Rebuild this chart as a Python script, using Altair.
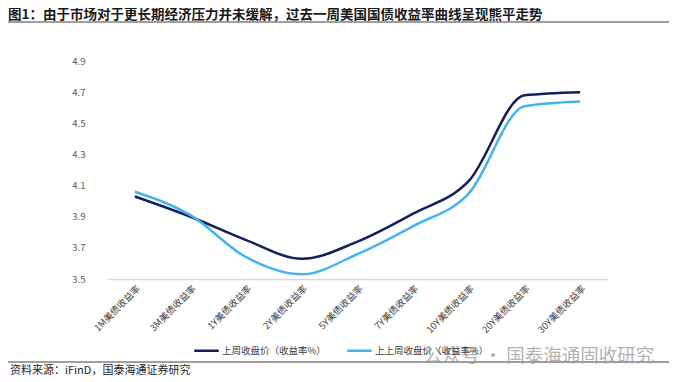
import altair as alt
import pandas as pd

categories = ["1M美债收益率", "3M美债收益率", "1Y美债收益率", "2Y美债收益率", "5Y美债收益率",
              "7Y美债收益率", "10Y美债收益率", "20Y美债收益率", "30Y美债收益率"]
last_week = [4.03, 3.90, 3.75, 3.63, 3.74, 3.92, 4.13, 4.68, 4.70]
prev_week = [4.06, 3.91, 3.64, 3.53, 3.66, 3.84, 4.05, 4.61, 4.64]
series_names = ["上周收盘价（收益率%）", "上上周收盘价（收益率%）"]
colors = ["#15205a", "#47b3ee"]
y_ticks = [3.5, 3.7, 3.9, 4.1, 4.3, 4.5, 4.7, 4.9]

title_text = "图1：由于市场对于更长期经济压力并未缓解，过去一周美国国债收益率曲线呈现熊平走势"
source_text = "资料来源：iFinD，国泰海通证券研究"
watermark_text = "公众号 · 国泰海通固收研究"

rows = []
for c, a, b in zip(categories, last_week, prev_week):
    rows.append({"cat": c, "series": series_names[0], "v": a})
    rows.append({"cat": c, "series": series_names[1], "v": b})
df = pd.DataFrame(rows)

FONT = "Noto Sans CJK SC"
W, H = 501, 218

lines = alt.Chart(df).mark_line(strokeWidth=2.5, interpolate="monotone").encode(
    x=alt.X("cat:N", sort=categories, title=None,
            scale=alt.Scale(paddingInner=0, paddingOuter=0.5),
            axis=alt.Axis(labelAngle=-45, labelFontSize=9.5, labelColor="#404040",
                          labelFont=FONT, ticks=False, domainColor="#d9d9d9",
                          domainWidth=1.5, labelPadding=4, grid=False)),
    y=alt.Y("v:Q", title=None,
            scale=alt.Scale(domain=[3.5, 4.9], nice=False, zero=False),
            axis=alt.Axis(values=y_ticks, format=".1f", domain=False, ticks=False,
                          grid=False, labelColor="#595959", labelFontSize=9.5,
                          labelFont=FONT, labelPadding=22)),
    color=alt.Color("series:N", sort=series_names,
                    scale=alt.Scale(domain=series_names, range=colors),
                    legend=alt.Legend(title=None, orient="none", direction="horizontal",
                                      legendX=86, legendY=276, symbolType="stroke",
                                      symbolStrokeWidth=2.5, symbolSize=600,
                                      labelFont=FONT, labelFontSize=9.5,
                                      labelColor="#404040", columnPadding=16,
                                      labelOffset=2)),
)

ann = pd.DataFrame({"k": [0]})
title = alt.Chart(ann).mark_text(align="left", baseline="alphabetic", fontSize=13.5,
                                 fontWeight="bold", font=FONT, color="#1a1a1a").encode(
    x=alt.value(-99), y=alt.value(-42), text=alt.value(title_text))
title_rule = alt.Chart(ann).mark_rule(color="#7f7f7f", strokeWidth=1.5).encode(
    x=alt.value(-99), x2=alt.value(563), y=alt.value(-39))
bottom_rule = alt.Chart(ann).mark_rule(color="#7f7f7f", strokeWidth=1.5).encode(
    x=alt.value(-99), x2=alt.value(563), y=alt.value(301))
source = alt.Chart(ann).mark_text(align="left", baseline="middle", fontSize=11,
                                  font=FONT, color="#262626").encode(
    x=alt.value(-97), y=alt.value(310), text=alt.value(source_text))
watermark = alt.Chart(ann).mark_text(align="left", baseline="middle", fontSize=18.5,
                                     font=FONT, color="#9a9a9a", opacity=0.75).encode(
    x=alt.value(317), y=alt.value(295), text=alt.value(watermark_text))

chart = alt.layer(lines, title, title_rule, bottom_rule, source, watermark).properties(
    width=W, height=H,
    padding={"left": 99, "top": 53, "right": 61, "bottom": 106},
    autosize=alt.AutoSizeParams(type="none"),
).configure_view(stroke=None)

chart.save("out.html", embed_options={"renderer": "svg", "actions": False})
